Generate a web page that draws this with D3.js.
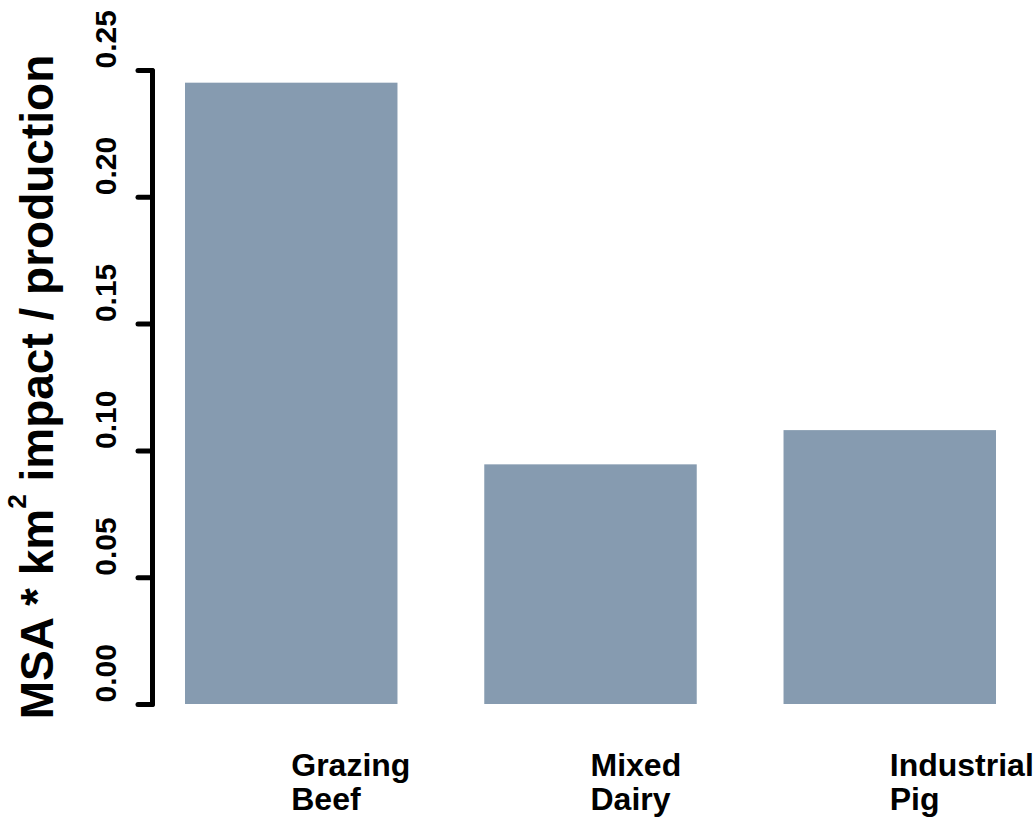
<!DOCTYPE html>
<html>
<head>
<meta charset="utf-8">
<script src="https://cdn.jsdelivr.net/npm/d3@7"></script>
<style>
  html, body { margin: 0; padding: 0; background: #ffffff; }
  svg { display: block; font-family: "Liberation Sans", Arial, sans-serif; }
</style>
</head>
<body>
<svg id="chart" width="1033" height="818"></svg>
<script>
// Biodiversity impact per unit of production, by livestock system
const categories = ["Grazing Beef", "Mixed Dairy", "Industrial Pig"];
const categoryLines = [["Grazing", "Beef"], ["Mixed", "Dairy"], ["Industrial", "Pig"]];
const impactValues = [0.245, 0.0945, 0.108];
const tickValues = [0, 0.05, 0.10, 0.15, 0.20, 0.25];
const tickLabels = ["0.00", "0.05", "0.10", "0.15", "0.20", "0.25"];

const svg = d3.select("#chart");
const barColor = "#869bb0";

const x = d3.scaleBand()
  .domain(categories)
  .range([185, 996])
  .paddingInner(0.29)
  .paddingOuter(0);

const y = d3.scaleLinear()
  .domain([0, 0.25])
  .range([704, 70]);

// bars
svg.append("g")
  .selectAll("rect")
  .data(categories)
  .join("rect")
  .attr("x", d => x(d))
  .attr("width", x.bandwidth())
  .attr("y", (d, i) => y(impactValues[i]))
  .attr("height", (d, i) => y(0) - y(impactValues[i]))
  .attr("fill", barColor);

// y axis
const axisX = 152;
const yAxis = d3.axisLeft(y)
  .tickValues(tickValues)
  .tickFormat((d, i) => tickLabels[i])
  .tickSize(14)
  .tickSizeOuter(0);

const gAxis = svg.append("g")
  .attr("transform", `translate(${axisX},0)`)
  .call(yAxis);

gAxis.select(".domain")
  .attr("stroke", "#000")
  .attr("stroke-width", 5)
  .attr("stroke-linecap", "round");

gAxis.selectAll(".tick line")
  .attr("stroke", "#000")
  .attr("stroke-width", 5)
  .attr("stroke-linecap", "round");

gAxis.selectAll(".tick text")
  .attr("x", null)
  .attr("dy", null)
  .attr("transform", "translate(-36,-2) rotate(-90)")
  .attr("text-anchor", "start")
  .attr("fill", "#000")
  .style("font-size", "30px")
  .style("font-weight", "bold")
  .style("font-family", "'Liberation Sans', Arial, sans-serif");

// y axis title
const yMid = (y(0) + y(0.25)) / 2;
const title = svg.append("text")
  .attr("transform", `translate(53,${yMid}) rotate(-90)`)
  .attr("text-anchor", "middle")
  .attr("fill", "#000")
  .style("font-size", "46px")
  .style("font-weight", "bold");
title.append("tspan").text("MSA * km");
title.append("tspan").attr("dy", -27).style("font-size", "26px").text("2");
title.append("tspan").attr("dy", 27).text(" impact / production");

// category labels
const labels = svg.append("g")
  .selectAll("text")
  .data(categories)
  .join("text")
  .attr("fill", "#000")
  .style("font-size", "32px")
  .style("font-weight", "bold");

labels.each(function(d, i) {
  const t = d3.select(this);
  const lx = x(d) + x.bandwidth() / 2;
  categoryLines[i].forEach((line, j) => {
    t.append("tspan")
      .attr("x", lx)
      .attr("y", 776 + j * 34)
      .text(line);
  });
});
</script>
</body>
</html>
